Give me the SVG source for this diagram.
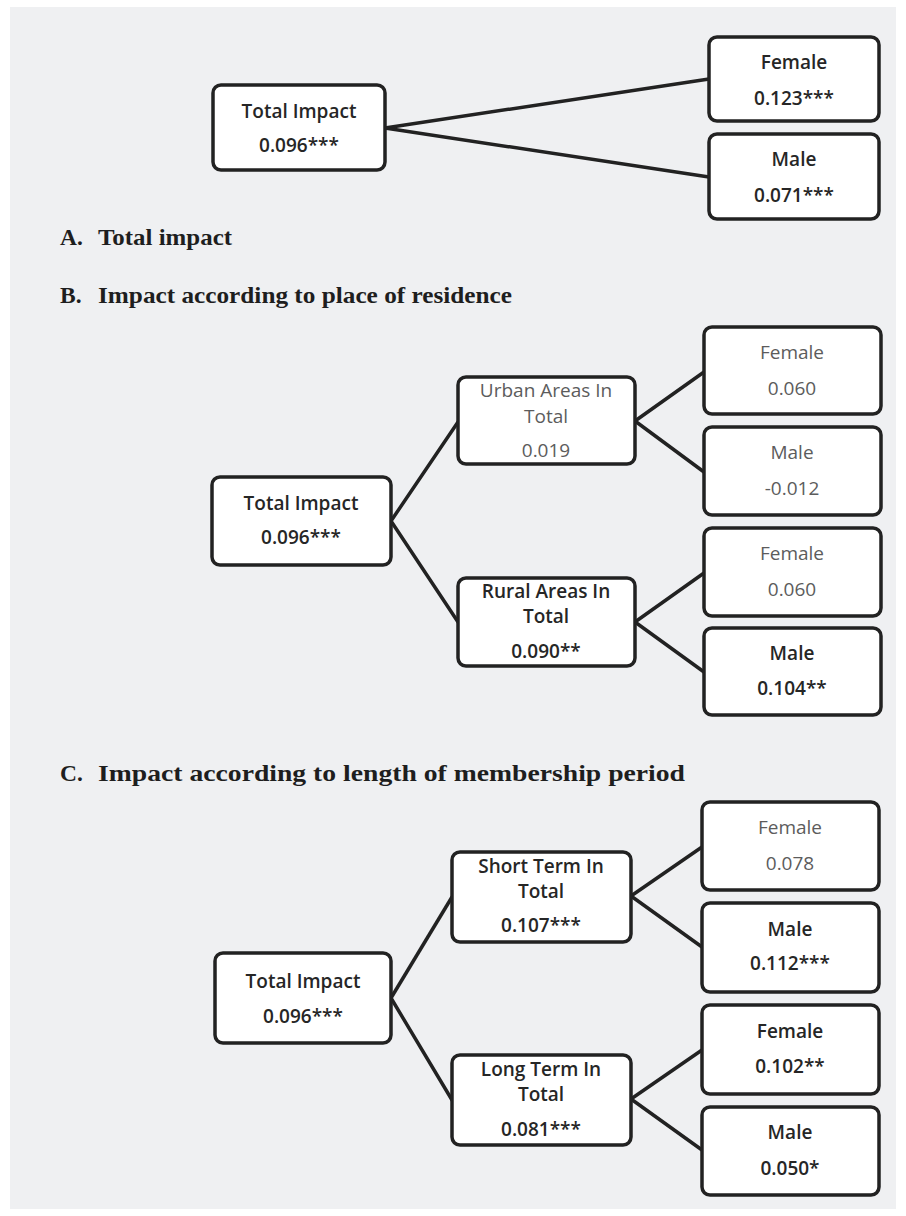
<svg xmlns="http://www.w3.org/2000/svg" width="906" height="1216" viewBox="0 0 906 1216">
<style>
.box{fill:#ffffff;stroke:#222222;stroke-width:3.5}
.t{font-family:"Open Sans","Liberation Sans",sans-serif;font-size:19px;text-anchor:middle}
.s{font-weight:600;fill:#262626}
.g{font-weight:400;fill:#5c5c5c}
.lbl{font-family:"Liberation Serif","Times New Roman",serif;font-weight:bold;font-size:23.5px;fill:#1e1e1e}
.ln{stroke:#222222;stroke-width:3.5;fill:none;stroke-linecap:round}
</style>
<rect x="0" y="0" width="906" height="1216" fill="#ffffff"/>
<rect x="10" y="7" width="886" height="1202" fill="#eff0f2"/>

<g id="connectors">
<line class="ln" x1="385" y1="128" x2="709" y2="79"/>
<line class="ln" x1="385" y1="128" x2="709" y2="177"/>
<line class="ln" x1="391" y1="521" x2="458" y2="422"/>
<line class="ln" x1="391" y1="521" x2="458" y2="622"/>
<line class="ln" x1="635" y1="421" x2="704" y2="372"/>
<line class="ln" x1="635" y1="421" x2="704" y2="472"/>
<line class="ln" x1="635" y1="622" x2="704" y2="573"/>
<line class="ln" x1="635" y1="622" x2="704" y2="672"/>
<line class="ln" x1="391" y1="998" x2="452" y2="897"/>
<line class="ln" x1="391" y1="998" x2="452" y2="1100"/>
<line class="ln" x1="631" y1="896" x2="702" y2="847"/>
<line class="ln" x1="631" y1="896" x2="702" y2="947"/>
<line class="ln" x1="631" y1="1099" x2="702" y2="1050"/>
<line class="ln" x1="631" y1="1099" x2="702" y2="1150"/>
</g>

<g id="a-total"><rect class="box" x="213" y="85" width="172" height="85" rx="8"/>
<text class="t s" x="299" y="118">Total Impact</text><text class="t s" x="299" y="152">0.096***</text></g>
<g id="a-female"><rect class="box" x="709" y="37" width="170" height="84" rx="8"/>
<text class="t s" x="794" y="69">Female</text><text class="t s" x="794" y="105">0.123***</text></g>
<g id="a-male"><rect class="box" x="709" y="134" width="170" height="85" rx="8"/>
<text class="t s" x="794" y="166">Male</text><text class="t s" x="794" y="202">0.071***</text></g>

<g id="label-a"><text class="lbl" y="245"><tspan x="60">A.</tspan><tspan x="98" textLength="134" lengthAdjust="spacingAndGlyphs">Total impact</tspan></text></g>
<g id="label-b"><text class="lbl" y="303"><tspan x="60">B.</tspan><tspan x="98" textLength="414" lengthAdjust="spacingAndGlyphs">Impact according to place of residence</tspan></text></g>

<g id="b-total"><rect class="box" x="212" y="477" width="179" height="88" rx="8"/>
<text class="t s" x="301" y="510">Total Impact</text><text class="t s" x="301" y="544">0.096***</text></g>
<g id="b-urban"><rect class="box" x="458" y="377" width="177" height="87" rx="8"/>
<text class="t g" x="546" y="397">Urban Areas In</text><text class="t g" x="546" y="423">Total</text><text class="t g" x="546" y="457">0.019</text></g>
<g id="b-rural"><rect class="box" x="458" y="578" width="177" height="88" rx="8"/>
<text class="t s" x="546" y="598">Rural Areas In</text><text class="t s" x="546" y="623">Total</text><text class="t s" x="546" y="658">0.090**</text></g>
<g id="b-urban-female"><rect class="box" x="704" y="327" width="177" height="87" rx="8"/>
<text class="t g" x="792" y="359">Female</text><text class="t g" x="792" y="395">0.060</text></g>
<g id="b-urban-male"><rect class="box" x="704" y="427" width="177" height="88" rx="8"/>
<text class="t g" x="792" y="459">Male</text><text class="t g" x="792" y="495">-0.012</text></g>
<g id="b-rural-female"><rect class="box" x="704" y="528" width="177" height="88" rx="8"/>
<text class="t g" x="792" y="560">Female</text><text class="t g" x="792" y="596">0.060</text></g>
<g id="b-rural-male"><rect class="box" x="704" y="628" width="177" height="87" rx="8"/>
<text class="t s" x="792" y="660">Male</text><text class="t s" x="792" y="695">0.104**</text></g>

<g id="label-c"><text class="lbl" y="781"><tspan x="60">C.</tspan><tspan x="98" textLength="587" lengthAdjust="spacingAndGlyphs">Impact according to length of membership period</tspan></text></g>

<g id="c-total"><rect class="box" x="215" y="953" width="176" height="90" rx="8"/>
<text class="t s" x="303" y="988">Total Impact</text><text class="t s" x="303" y="1023">0.096***</text></g>
<g id="c-short"><rect class="box" x="452" y="852" width="179" height="90" rx="8"/>
<text class="t s" x="541" y="873">Short Term In</text><text class="t s" x="541" y="898">Total</text><text class="t s" x="541" y="932">0.107***</text></g>
<g id="c-long"><rect class="box" x="452" y="1055" width="179" height="90" rx="8"/>
<text class="t s" x="541" y="1076">Long Term In</text><text class="t s" x="541" y="1101">Total</text><text class="t s" x="541" y="1136">0.081***</text></g>
<g id="c-short-female"><rect class="box" x="702" y="802" width="177" height="88" rx="8"/>
<text class="t g" x="790" y="834">Female</text><text class="t g" x="790" y="870">0.078</text></g>
<g id="c-short-male"><rect class="box" x="702" y="903" width="177" height="89" rx="8"/>
<text class="t s" x="790" y="936">Male</text><text class="t s" x="790" y="970">0.112***</text></g>
<g id="c-long-female"><rect class="box" x="702" y="1005" width="177" height="89" rx="8"/>
<text class="t s" x="790" y="1038">Female</text><text class="t s" x="790" y="1073">0.102**</text></g>
<g id="c-long-male"><rect class="box" x="702" y="1107" width="177" height="88" rx="8"/>
<text class="t s" x="790" y="1139">Male</text><text class="t s" x="790" y="1175">0.050*</text></g>
</svg>
